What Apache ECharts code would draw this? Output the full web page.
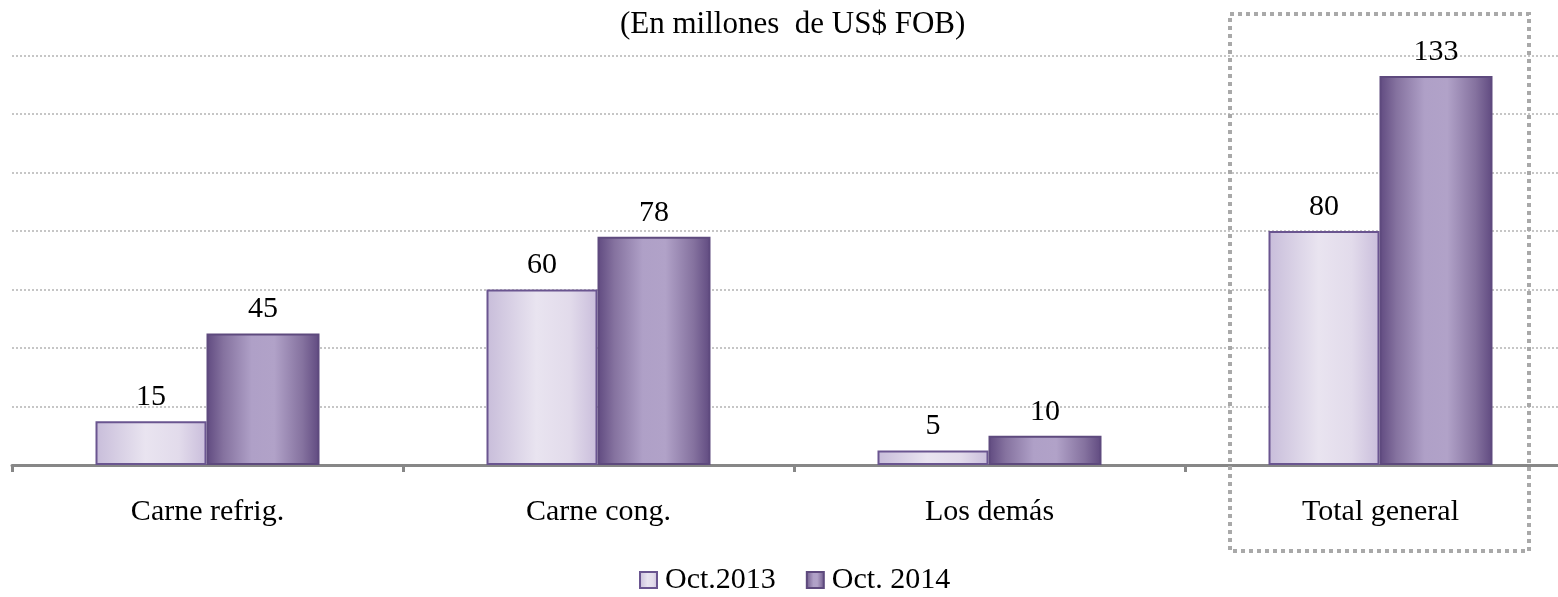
<!DOCTYPE html>
<html>
<head>
<meta charset="utf-8">
<script src="https://cdn.jsdelivr.net/npm/echarts@6/dist/echarts.min.js"></script>
<style>
  html, body { margin: 0; padding: 0; background: #ffffff; }
  #main { width: 1558px; height: 597px; }
</style>
</head>
<body>
<div id="main"></div>
<script>
// datos
var categorias = ['Carne refrig.', 'Carne cong.', 'Los demás', 'Total general'];
var oct2013 = [15, 60, 5, 80];
var oct2014 = [45, 78, 10, 133];
var nombres = ['Oct.2013', 'Oct. 2014'];

var fuente = '"Liberation Serif", "Times New Roman", serif';

var myChart = echarts.init(document.getElementById('main'));

// degradados horizontales (efecto cilindro)
var grad2013 = new echarts.graphic.LinearGradient(0, 0, 1, 0, [
    { offset: 0, color: '#c8bdda' },
    { offset: 0.45, color: '#e9e4f0' },
    { offset: 0.75, color: '#e2dbeb' },
    { offset: 1, color: '#c9bddb' }
]);
var grad2014 = new echarts.graphic.LinearGradient(0, 0, 1, 0, [
    { offset: 0, color: '#604a80' },
    { offset: 0.15, color: '#85729f' },
    { offset: 0.4, color: '#afa0c7' },
    { offset: 0.6, color: '#b1a2c8' },
    { offset: 0.85, color: '#85729f' },
    { offset: 1, color: '#604a80' }
]);

var etiqueta = {
    show: true,
    position: 'top',
    distance: 9,
    color: '#000000',
    fontFamily: fuente,
    fontSize: 30
};

option = {
    backgroundColor: '#ffffff',
    animation: false,
    title: {
        text: '(En millones  de US$ FOB)',
        left: 615,
        top: 4,
        textStyle: {
            fontFamily: fuente,
            fontWeight: 'normal',
            fontSize: 31,
            color: '#000000'
        }
    },
    legend: {
        data: nombres,
        left: 634,
        top: 560,
        itemWidth: 17,
        itemHeight: 16,
        itemGap: 30,
        icon: 'rect',
        textStyle: {
            fontFamily: fuente,
            fontSize: 30,
            color: '#000000',
            padding: [0, 0, 0, 3]
        }
    },
    grid: {
        left: 12,
        right: -18,
        top: 55.5,
        bottom: 132,
        containLabel: false,
        outerBoundsMode: 'none'
    },
    xAxis: {
        type: 'category',
        data: categorias,
        axisLine: { lineStyle: { color: '#878787', width: 3 } },
        axisTick: { show: true, length: 7, lineStyle: { color: '#878787', width: 3 } },
        axisLabel: {
            margin: 32,
            color: '#000000',
            fontFamily: fuente,
            fontSize: 30
        }
    },
    yAxis: {
        type: 'value',
        min: 0,
        max: 140,
        interval: 20,
        axisLine: { show: false },
        axisTick: { show: false },
        axisLabel: { show: false },
        splitLine: {
            lineStyle: { color: '#c6c6c6', width: 2, type: [2, 2] }
        }
    },
    graphic: [{
        type: 'rect',
        shape: { x: 1230, y: 14, width: 299, height: 537 },
        style: { fill: 'none', stroke: '#a9a9a9', lineWidth: 4, lineDash: [4, 4] },
        z: 100
    }],
    series: [{
        name: nombres[0],
        type: 'bar',
        data: oct2013,
        barWidth: 111,
        barGap: '0%',
        itemStyle: { color: grad2013, borderColor: '#6a5590', borderWidth: 2 },
        label: etiqueta
    }, {
        name: nombres[1],
        type: 'bar',
        data: oct2014,
        barWidth: 113,
        barGap: '0%',
        itemStyle: { color: grad2014, borderColor: '#5e4a7e', borderWidth: 2 },
        label: etiqueta
    }]
};

myChart.setOption(option);
</script>
</body>
</html>
